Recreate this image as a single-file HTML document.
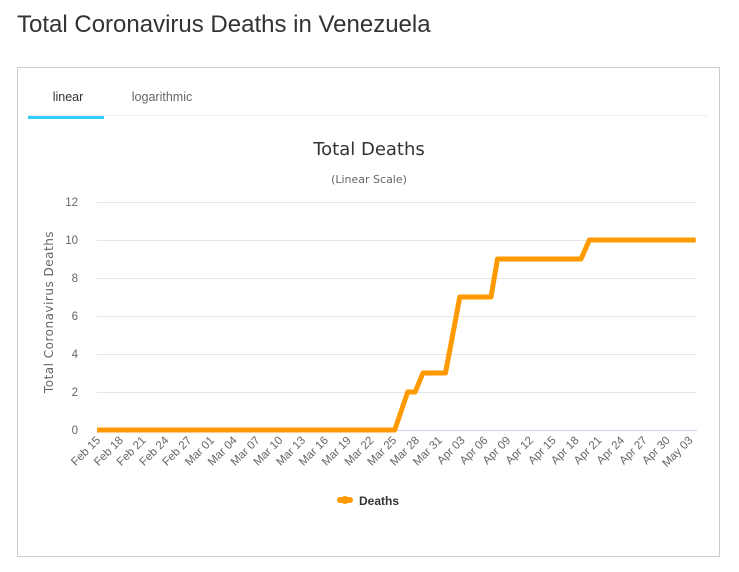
<!DOCTYPE html>
<html><head><meta charset="utf-8"><style>
body{margin:0;background:#fff;font-family:"Liberation Sans",sans-serif;}
</style></head><body>
<svg width="739" height="572" xmlns="http://www.w3.org/2000/svg" style="position:absolute;left:0;top:0">
<text x="17" y="32" font-size="24" fill="#333" font-family="Liberation Sans">Total Coronavirus Deaths in Venezuela</text>
<rect x="17.5" y="67.5" width="702" height="489" fill="#fff" stroke="#ccc"/>
<line x1="28" y1="115.5" x2="708" y2="115.5" stroke="#eee"/>
<rect x="28" y="116" width="76" height="3" fill="#33ccff"/>
<text x="68" y="101" font-size="12.5" fill="#333" text-anchor="middle">linear</text>
<text x="162" y="101" font-size="12.5" fill="#666" text-anchor="middle">logarithmic</text>
<text x="369" y="155" font-size="18" fill="#333" text-anchor="middle" font-family="DejaVu Sans">Total Deaths</text>
<text x="369" y="183" font-size="11" fill="#666" text-anchor="middle" font-family="DejaVu Sans">(Linear Scale)</text>
<g stroke="#e6e6e6" stroke-width="1">
<line x1="97" y1="202.5" x2="697" y2="202.5"/>
<line x1="97" y1="240.5" x2="697" y2="240.5"/>
<line x1="97" y1="278.5" x2="697" y2="278.5"/>
<line x1="97" y1="316.5" x2="697" y2="316.5"/>
<line x1="97" y1="354.5" x2="697" y2="354.5"/>
<line x1="97" y1="392.5" x2="697" y2="392.5"/>
</g>
<line x1="97" y1="430.5" x2="697" y2="430.5" stroke="#ccd6eb"/>
<g font-size="11.5" fill="#666" text-anchor="end" font-family="Liberation Sans">
<text x="78" y="206">12</text><text x="78" y="244">10</text><text x="78" y="282">8</text>
<text x="78" y="320">6</text><text x="78" y="358">4</text><text x="78" y="396">2</text><text x="78" y="434">0</text>
</g>
<text transform="translate(53,312) rotate(-90)" font-size="12" fill="#666" text-anchor="middle" font-family="DejaVu Sans" letter-spacing="0.5">Total Coronavirus Deaths</text>
<polyline fill="none" stroke="#ff9900" stroke-width="5" stroke-linejoin="round" points="97,430 394.7,430 407.7,392 415.1,392 423,373 445.5,373 459.8,297 491,297 497.5,259 581,259 589.4,240 695.7,240"/>
<g font-size="11.5" fill="#666" text-anchor="end" font-family="Liberation Sans" id="xl">
</g>
<rect x="337" y="497" width="16" height="6" rx="3" fill="#ff9900"/>
<circle cx="345" cy="500" r="4" fill="#ff9900"/>
<text x="359" y="505" font-size="12" font-weight="bold" fill="#333" font-family="Liberation Sans">Deaths</text>
</svg>
<script>
var l=["Feb 15","Feb 18","Feb 21","Feb 24","Feb 27","Mar 01","Mar 04","Mar 07","Mar 10","Mar 13","Mar 16","Mar 19","Mar 22","Mar 25","Mar 28","Mar 31","Apr 03","Apr 06","Apr 09","Apr 12","Apr 15","Apr 18","Apr 21","Apr 24","Apr 27","Apr 30","May 03"];
var g=document.getElementById("xl"),s="";
for(var i=0;i<l.length;i++){var x=97+i*22.785+4,y=441;s+='<text transform="translate('+x+','+y+') rotate(-45)">'+l[i]+'</text>';}
g.innerHTML=s;
</script>
</body></html>
